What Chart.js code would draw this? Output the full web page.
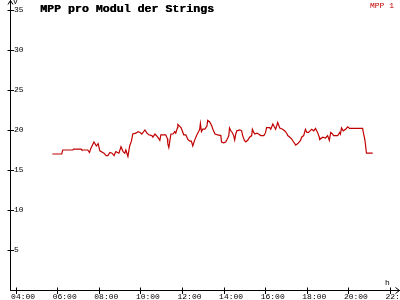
<!DOCTYPE html>
<html>
<head>
<meta charset="utf-8">
<script src="https://cdn.jsdelivr.net/npm/chart.js@4"></script>
<style>
  html, body { margin: 0; padding: 0; background: #fff; }
  canvas { display: block; }
</style>
</head>
<body>
<canvas id="mppChart" width="400" height="300"></canvas>
<script>
// MPP voltage per module
const times = [
    "05:46", "06:13", "06:16", "06:45", "06:47", "07:09", "07:11", "07:28", "07:33", "07:37",
    "07:46", "07:53", "07:58", "08:03", "08:15", "08:21", "08:26", "08:32", "08:38", "08:44",
    "08:49", "08:58", "09:04", "09:10", "09:15", "09:18", "09:24",
    "09:29", "09:34", "09:38", "09:47", "09:53", "09:59", "10:04", "10:13", "10:19", "10:24",
    "10:33", "10:36", "10:42", "10:50", "10:56", "10:59", "11:08", "11:13", "11:18", "11:19",
    "11:22", "11:28", "11:34", "11:39", "11:42", "11:47", "11:48", "11:57", "11:59", "12:05",
    "12:11", "12:17", "12:23", "12:27", "12:31", "12:37", "12:43", "12:48", "12:51", "12:53",
    "12:56", "13:00", "13:06", "13:12", "13:14", "13:20", "13:26", "13:29",
    "13:35", "13:43", "13:52", "13:54", "14:00", "14:06", "14:12", "14:15", "14:17", "14:21",
    "14:26", "14:29", "14:32", "14:35", "14:38", "14:47", "14:52", "14:55", "15:00", "15:04",
    "15:10", "15:15", "15:21", "15:23", "15:27", "15:30", "15:36", "15:41", "15:47", "15:56",
    "15:59", "16:01", "16:04", "16:13", "16:16", "16:22", "16:26", "16:30", "16:33", "16:36",
    "16:42", "16:50", "16:56", "17:02", "17:05", "17:11", "17:16", "17:22",
    "17:28", "17:34", "17:42", "17:45", "17:51", "17:56", "18:00", "18:05", "18:14", "18:20",
    "18:25", "18:31", "18:36", "18:37", "18:46", "18:54", "19:00", "19:05", "19:09", "19:14",
    "19:17", "19:29", "19:35", "19:37", "19:40", "19:45", "19:52", "19:58", "20:03", "20:41",
    "20:43", "20:47", "20:49", "20:52", "21:10"
];
const mpp1 = [
    17.0, 17.0, 17.5, 17.5, 17.6, 17.6, 17.5, 17.5, 17.2, 17.7,
    18.5, 18.0, 18.3, 17.4, 17.1, 16.8, 16.8, 17.2, 17.1, 16.8,
    17.3, 17.1, 17.9, 17.3, 17.1, 17.5, 16.7,
    18.0, 18.6, 19.5, 19.6, 19.8, 19.7, 19.5, 20.0, 19.6, 19.4,
    19.3, 19.1, 19.5, 19.1, 18.7, 19.4, 19.4, 19.4, 18.9, 18.3,
    17.8, 19.5, 19.5, 19.8, 19.6, 20.3, 20.7, 20.3, 20.1, 19.4,
    19.4, 18.8, 18.6, 18.6, 18.0, 18.8, 19.4, 19.8, 20.1, 20.8,
    19.8, 20.1, 20.1, 20.5, 21.2, 21.0, 20.5, 20.1,
    19.5, 19.4, 19.3, 18.5, 18.4, 18.5, 19.0, 19.3, 20.25, 19.9,
    19.6, 19.3, 18.75, 19.5, 19.9, 20.0, 19.9, 19.3, 18.7, 18.5,
    18.75, 19.1, 19.3, 20.1, 19.7, 19.5, 19.6, 19.5, 19.3, 19.3,
    19.5, 19.7, 20.3, 20.3, 20.1, 20.75, 20.4, 20.1, 20.5, 20.95,
    20.25, 20.1, 19.9, 19.6, 19.3, 19.1, 18.9, 18.5,
    18.1, 18.3, 18.7, 19.1, 19.3, 20.1, 19.7, 19.7, 20.1, 19.9,
    20.2, 19.7, 19.1, 18.8, 19.1, 19.0, 19.3, 18.7, 19.7, 19.5,
    19.3, 19.3, 19.7, 19.5, 20.25, 19.9, 20.1, 20.4, 20.2, 20.2,
    19.7, 18.9, 18.25, 17.1, 17.1
];

const xTickHours = [4, 6, 8, 10, 12, 14, 16, 18, 20, 22];
const xTickLabels = ["04:00", "06:00", "08:00", "10:00", "12:00", "14:00", "16:00", "18:00", "20:00", "22:00"];
const yTicks = [5, 10, 15, 20, 25, 30, 35];

const titleText = "MPP pro Modul der Strings";
const lineColor = '#c00000';
const monoFont = '"Liberation Mono", "DejaVu Sans Mono", monospace';

function toHours(hhmm) {
    const parts = hhmm.split(':');
    return parseInt(parts[0], 10) + parseInt(parts[1], 10) / 60;
}

const points = times.map((t, i) => ({ x: toHours(t), y: mpp1[i] }));

// axes with arrows, crossing tick marks, units, title and legend text
const decorPlugin = {
    id: 'decor',
    afterDraw: function (chart) {
        const ctx = chart.ctx;
        const xs = chart.scales.x;
        const ys = chart.scales.y;
        const area = chart.chartArea;
        const ax = Math.round(area.left) + 0.5;
        const ay = Math.round(area.bottom) + 0.5;

        ctx.save();
        ctx.strokeStyle = '#000';
        ctx.lineWidth = 1;
        ctx.beginPath();
        yTicks.forEach(v => {
            const py = Math.round(ys.getPixelForValue(v)) + 0.5;
            ctx.moveTo(ax - 3, py);
            ctx.lineTo(ax + 3.5, py);
        });
        xTickHours.forEach(h => {
            const px = Math.round(xs.getPixelForValue(h)) + 0.5;
            ctx.moveTo(px, ay - 3);
            ctx.lineTo(px, ay + 3.5);
        });
        // arrow heads
        ctx.moveTo(ax - 2.5, 4.5);
        ctx.lineTo(ax, 0.5);
        ctx.lineTo(ax + 2.5, 4.5);
        ctx.moveTo(395.5, ay - 3);
        ctx.lineTo(399.5, ay);
        ctx.lineTo(395.5, ay + 3);
        ctx.stroke();

        ctx.fillStyle = '#000';
        ctx.textAlign = 'left';
        ctx.textBaseline = 'alphabetic';
        ctx.font = '8px ' + monoFont;
        ctx.fillText('V', ax + 2.5, 4);
        ctx.fillText('h', 385, 284.5);

        ctx.font = 'bold 11.6px ' + monoFont;
        ctx.fillText(titleText, 40, 11.5);
        ctx.fillText(titleText, 40.4, 11.5);

        ctx.fillStyle = lineColor;
        ctx.font = '8px ' + monoFont;
        ctx.fillText(chart.data.datasets[0].label, 370, 7.8);
        ctx.restore();
    }
};

new Chart(document.getElementById('mppChart').getContext('2d'), {
    type: 'line',
    data: {
        datasets: [{
            label: 'MPP 1',
            data: points,
            borderColor: lineColor,
            borderWidth: 1.2,
            pointRadius: 0,
            tension: 0,
            fill: false
        }]
    },
    options: {
        responsive: false,
        animation: false,
        layout: { padding: { left: 10, right: 0, top: 0, bottom: 0 } },
        plugins: {
            legend: { display: false },
            title: { display: false },
            tooltip: { enabled: false }
        },
        scales: {
            x: {
                type: 'linear',
                min: 3.73,
                max: 22.48,
                grid: { display: false, drawTicks: false },
                border: { display: true, color: '#000', width: 1 },
                afterBuildTicks: function (scale) {
                    scale.ticks = xTickHours.map(h => ({ value: h }));
                },
                afterFit: function (scale) {
                    scale.height = 10;
                    scale.paddingLeft = 0;
                    scale.paddingRight = 0;
                },
                ticks: {
                    autoSkip: false,
                    maxRotation: 0,
                    minRotation: 0,
                    padding: 2,
                    labelOffset: 7.5,
                    color: '#000',
                    font: { family: monoFont, size: 8 },
                    callback: function (value) {
                        const i = xTickHours.indexOf(value);
                        return i >= 0 ? xTickLabels[i] : '';
                    }
                }
            },
            y: {
                min: 0,
                max: 36.25,
                grid: { display: false, drawTicks: false },
                border: { display: true, color: '#000', width: 1 },
                afterBuildTicks: function (scale) {
                    scale.ticks = yTicks.map(v => ({ value: v }));
                },
                afterFit: function (scale) {
                    scale.width = 0;
                    scale.paddingTop = 0;
                    scale.paddingBottom = 0;
                },
                ticks: {
                    mirror: true,
                    padding: 4,
                    color: '#000',
                    font: { family: monoFont, size: 8 }
                }
            }
        }
    },
    plugins: [decorPlugin]
});
</script>
</body>
</html>
